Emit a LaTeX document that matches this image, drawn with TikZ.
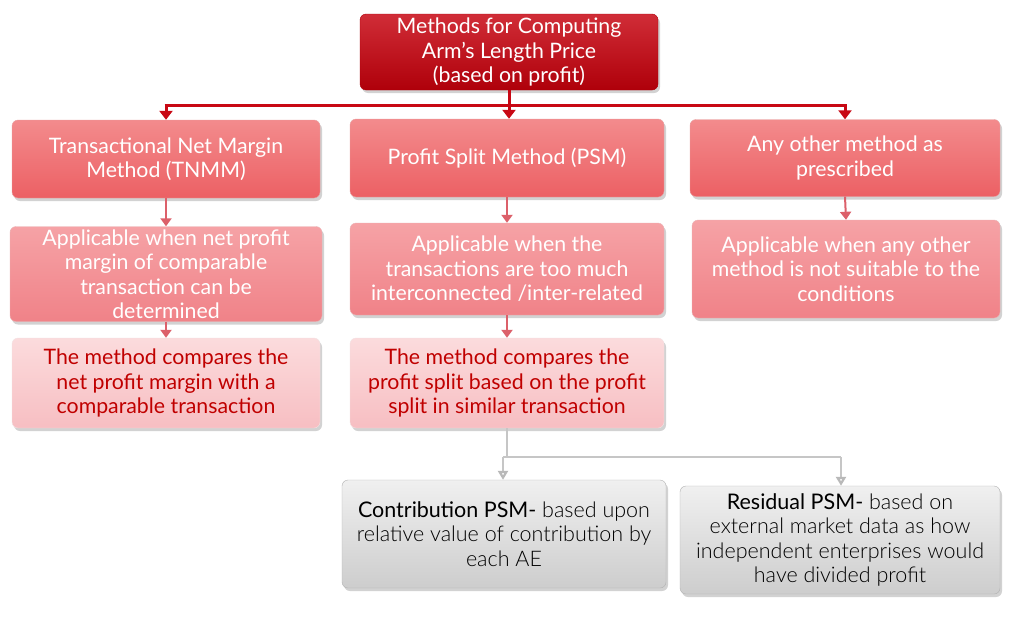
\documentclass[tikz,border=0pt]{standalone}
\usepackage{fontspec}
\setmainfont{Lato}
\newfontfamily\latolight{Lato Light}
\newfontfamily\latoreg{Lato}
\usetikzlibrary{arrows.meta,shadows}
\definecolor{topred}{RGB}{200,8,20}
\definecolor{topredlo}{RGB}{175,0,10}
\definecolor{salmon}{RGB}{240,110,112}
\definecolor{salmonlo}{RGB}{236,96,100}
\definecolor{pinkmid}{RGB}{244,146,150}
\definecolor{pinkmidlo}{RGB}{240,130,136}
\definecolor{pinklt}{RGB}{250,204,206}
\definecolor{pinkltlo}{RGB}{247,190,194}
\definecolor{darkred}{RGB}{192,0,0}
\definecolor{greyhi}{RGB}{240,240,240}
\definecolor{greylo}{RGB}{205,205,205}
\definecolor{conn}{RGB}{220,96,106}
\begin{document}
\begin{tikzpicture}[x=1pt,y=-1pt,
  box/.style={rounded corners=6pt, align=center, inner sep=2pt,
    drop shadow={opacity=0.35, shadow xshift=2pt, shadow yshift=-3pt},
    font=\fontsize{21.3}{24.5}\selectfont},
  topbox/.style={box, top color=topred!85!white, bottom color=topredlo, draw=topredlo, text=white},
  lvlone/.style={box, top color=salmon!80!white, bottom color=salmonlo, draw=salmon!90!black!60, text=white},
  lvltwo/.style={box, top color=pinkmid!85!white, bottom color=pinkmidlo, draw=pinkmid!90!black!60, text=white},
  lvlthree/.style={box, top color=pinklt!70!white, bottom color=pinkltlo, draw=pinklt!90!black!40, text=darkred},
  greybox/.style={box, top color=greyhi, bottom color=greylo, draw=gray!60, text=black,
    font=\latolight\fontsize{21.5}{24.5}\selectfont},
  redline/.style={draw=topred, line width=3pt},
  redarrow/.style={redline, -{Triangle[width=13pt,length=9pt]}},
  pinkarrow/.style={draw=conn, line width=2pt, -{Triangle[width=11pt,length=8pt]}},
  greyline/.style={draw=gray!45, line width=2.2pt},
  greyarrow/.style={greyline, -{Triangle[width=10pt,length=9pt,fill=white,color=gray!55]}},
]
\useasboundingbox (0,0) rectangle (1016,616);
\fill[white] (0,0) rectangle (1016,616);

\node[topbox, minimum width=298pt, minimum height=76pt] (top) at (509,52)
  {Methods for Computing\\Arm's Length Price\\(based on profit)};

\node[lvlone, minimum width=308pt, minimum height=78pt] (tnmm) at (166,159)
  {Transactional Net Margin\\Method (TNMM)};
\node[lvlone, minimum width=314pt, minimum height=78pt] (psm) at (507,158)
  {Profit Split Method (PSM)};
\node[lvlone, minimum width=310pt, minimum height=77pt] (other) at (845,158)
  {Any other method as\\prescribed};

\node[lvltwo, minimum width=312pt, minimum height=95pt] (tnmmapp) at (166,274)
  {Applicable when net profit\\margin of comparable\\transaction can be\\determined};
\node[lvltwo, minimum width=314pt, minimum height=92pt] (psmapp) at (507,269)
  {Applicable when the\\transactions are too much\\interconnected /inter-related};
\node[lvltwo, minimum width=308pt, minimum height=98pt] (otherapp) at (846,269)
  {Applicable when any other\\method is not suitable to the\\conditions};

\node[lvlthree, minimum width=308pt, minimum height=90pt] (tnmmcmp) at (166,383)
  {The method compares the\\net profit margin with a\\comparable transaction};
\node[lvlthree, minimum width=314pt, minimum height=90pt] (psmcmp) at (507,383)
  {The method compares the\\profit split based on the profit\\split in similar transaction};

\node[greybox, minimum width=324pt, minimum height=108pt] (contrib) at (504,534)
  {{\latoreg Contribution PSM-} based upon\\relative value of contribution by\\each AE};
\node[greybox, minimum width=320pt, minimum height=108pt] (resid) at (840,540)
  {{\latoreg Residual PSM-} based on\\external market data as how\\independent enterprises would\\have divided profit};

% top connector
\coordinate (bus) at (0,105);
\draw[redline] (top.south) -- (top.south |- bus);
\draw[redline] ([xshift=-1.5pt]tnmm.north |- bus) -- ([xshift=1.5pt]other.north |- bus);
\draw[redarrow] (tnmm.north |- bus) -- (tnmm.north);
\draw[redarrow] (top.south |- bus) -- (top.south |- psm.north);
\draw[redarrow] (other.north |- bus) -- (other.north);

% level connectors
\draw[pinkarrow] (tnmm.south) -- (tnmmapp.north);
\draw[pinkarrow] (tnmmapp.south) -- (tnmmcmp.north);
\draw[pinkarrow] (psm.south) -- (psmapp.north);
\draw[pinkarrow] (psmapp.south) -- (psmcmp.north);
\draw[pinkarrow] (other.south) -- (otherapp.north);

% grey connector
\coordinate (gbus) at (0,457);
\coordinate (lx) at (503,0);
\coordinate (rx) at (841,0);
\draw[greyline] (psmcmp.south) -- (psmcmp.south |- gbus);
\draw[greyline] (lx |- gbus) -- (rx |- gbus);
\draw[greyarrow] (lx |- gbus) -- (lx |- contrib.north);
\draw[greyarrow] (rx |- gbus) -- (rx |- resid.north);
\end{tikzpicture}
\end{document}
